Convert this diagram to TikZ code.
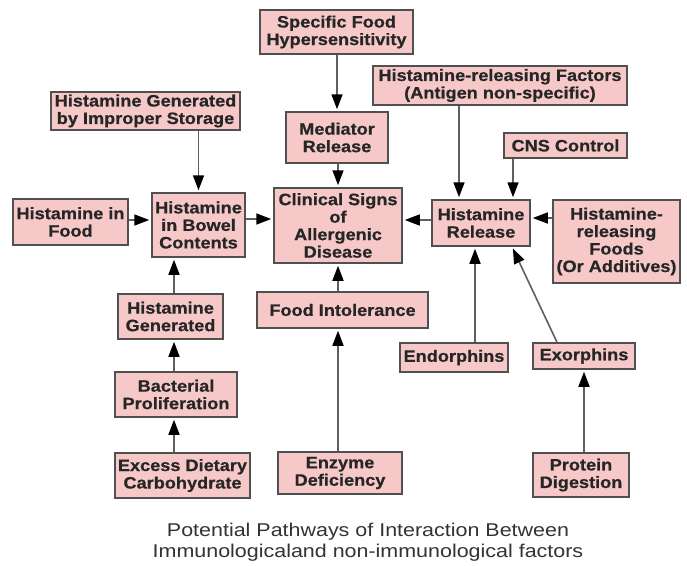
\documentclass[tikz,border=0pt]{standalone}
\usepackage{fontspec}
\setmainfont{Liberation Sans}
\newfontfamily\boxfont[FakeStretch=1.1,FakeBold=0.6]{Liberation Sans Bold}
\newfontfamily\capfont[FakeStretch=1.16]{Liberation Sans}
\usetikzlibrary{arrows.meta,calc}
\definecolor{boxpink}{RGB}{246,200,200}
\definecolor{boxline}{RGB}{80,80,80}
\definecolor{conn}{RGB}{95,95,95}
\tikzset{
  box/.style={draw=boxline, line width=1.5pt, fill=boxpink, inner sep=0pt,
    align=center, font=\boxfont\fontsize{16.5}{17.5}\selectfont, text=black!85},
  arr/.style={draw=conn, line width=1.6pt, -{Triangle[length=15pt,width=11pt,color=black]}, shorten >=2pt},
}
\begin{document}
\begin{tikzpicture}[x=1pt,y=-1pt]
\useasboundingbox (0,0) rectangle (687,565);
\fill[white] (0,0) rectangle (687,565);
% nodes
\node[box, minimum width=153pt, minimum height=44pt] (sfh) at (336.5,32) {Specific Food\\Hypersensitivity};
\node[box, minimum width=102pt, minimum height=51pt] (med) at (337,137.5) {Mediator\\Release};
\node[box, minimum width=128pt, minimum height=75pt] (cli) at (338,225.5) {Clinical Signs\\of\\Allergenic\\Disease};
\node[box, minimum width=189pt, minimum height=38pt] (his) at (145.5,111) {Histamine Generated\\by Improper Storage};
\node[box, minimum width=115pt, minimum height=46pt] (food) at (70.5,222) {Histamine in\\Food};
\node[box, minimum width=93pt, minimum height=64pt] (bow) at (198.5,225) {Histamine\\in Bowel\\Contents};
\node[box, minimum width=254pt, minimum height=39pt] (hrf) at (500,85.5) {Histamine-releasing Factors\\(Antigen non-specific)};
\node[box, minimum width=123pt, minimum height=25pt] (cns) at (565.5,145.5) {CNS Control};
\node[box, minimum width=98pt, minimum height=46pt] (rel) at (481,223) {Histamine\\Release};
\node[box, minimum width=127pt, minimum height=83pt] (hrfood) at (616.5,241.5) {Histamine-\\releasing\\Foods\\(Or Additives)};
\node[box, minimum width=105pt, minimum height=45pt] (hgen) at (170.5,316.5) {Histamine\\Generated};
\node[box, minimum width=122pt, minimum height=45pt] (bac) at (176,394.5) {Bacterial\\Proliferation};
\node[box, minimum width=135pt, minimum height=45pt] (exc) at (182.5,475.5) {Excess Dietary\\Carbohydrate};
\node[box, minimum width=171pt, minimum height=36pt] (fint) at (342.5,310) {Food Intolerance};
\node[box, minimum width=124pt, minimum height=42pt] (enz) at (340,473) {Enzyme\\Deficiency};
\node[box, minimum width=108pt, minimum height=29pt] (endo) at (454,357.5) {Endorphins};
\node[box, minimum width=102pt, minimum height=26pt] (exo) at (584,356) {Exorphins};
\node[box, minimum width=96pt, minimum height=44pt] (prot) at (581,475) {Protein\\Digestion};
\node[font=\capfont\fontsize{18.5}{20.5}\selectfont, text=black!80, align=center] (cap) at (368,542)
  {Potential Pathways of Interaction Between\\Immunologicaland non-immunological factors};
% helper coordinates
\coordinate (xl) at (174,0);
\coordinate (xc) at (338,0);
\coordinate (xf) at (459,0);
\coordinate (xn) at (513,0);
\coordinate (ye) at (0,219);
\coordinate (yr) at (0,220);
\coordinate (yh) at (0,218);
\coordinate (endtop) at ($(endo.north)+(21,0)$);
\coordinate (relbl) at ($(rel.south)+(-6,0)$);
\coordinate (exotop) at ($(exo.north)+(-27,0)$);
\coordinate (relbr) at ($(rel.south)+(31,0)$);
% connectors
\draw[arr] (med.north |- sfh.south) -- (med.north);
\draw[arr] (xc |- med.south) -- (xc |- cli.north);
\draw[arr] (bow.north |- his.south) -- (bow.north);
\draw[arr] (food.east |- yr) -- (bow.west |- yr);
\draw[arr] (bow.east |- ye) -- (cli.west |- ye);
\draw[arr] (xf |- hrf.south) -- (xf |- rel.north);
\draw[arr] (xn |- cns.south) -- (xn |- rel.north);
\draw[arr] (rel.west |- yr) -- (cli.east |- yr);
\draw[arr] (hrfood.west |- yh) -- (rel.east |- yh);
\draw[arr] (endtop) -- (relbl);
\draw[arr] (exotop) -- (relbr);
\draw[arr] (exo.south |- prot.north) -- (exo.south);
\draw[arr] (xc |- enz.north) -- (xc |- fint.south);
\draw[arr] (xc |- fint.north) -- (xc |- cli.south);
\draw[arr] (xl |- hgen.north) -- (xl |- bow.south);
\draw[arr] (xl |- bac.north) -- (xl |- hgen.south);
\draw[arr] (xl |- exc.north) -- (xl |- bac.south);
\end{tikzpicture}
\end{document}
